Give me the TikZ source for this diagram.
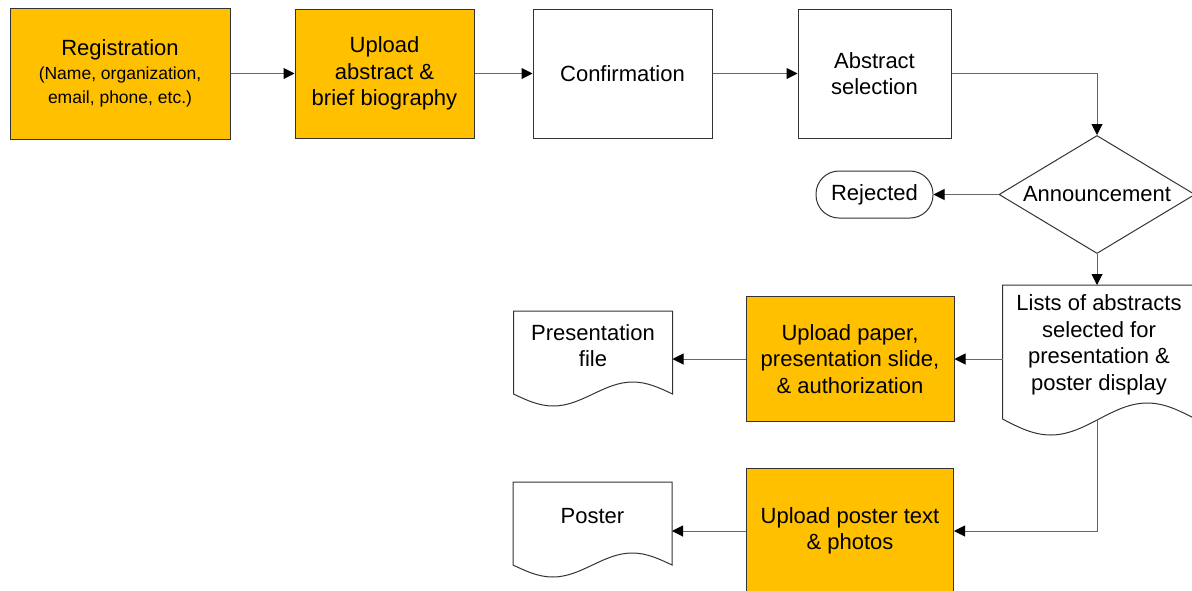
\documentclass[tikz,border=0pt]{standalone}
\usepackage{fontspec}
\setmainfont{Liberation Sans}
\usepackage{tikz}
\usetikzlibrary{positioning, arrows.meta, shapes.geometric, calc}
\definecolor{upfill}{HTML}{FFC000}
\tikzset{
->, % every connector is directed
>={Triangle[length=11pt, width=11pt, color=black]}, % filled black heads
every path/.style={line width=1pt},
every node/.style={align=center, font=\fontsize{22pt}{26.5pt}\selectfont},
link/.style={draw=black!60}, % connector lines
task/.style={rectangle, draw=black!80, minimum height=129pt}, % plain process box
upload/.style={task, fill=upfill}, % the steps done by the author
endbox/.style={rectangle, rounded corners=23pt, draw=black!80, minimum width=117pt, minimum height=47pt},
decision/.style={diamond, draw=black!80, inner sep=0pt, aspect=1.66, minimum width=196pt, minimum height=118pt},
docnode/.style={rectangle, inner sep=0pt}, % outline is drawn by \docoutline
}
% document outline with a wavy foot, #2 = wave height
\newcommand{\docoutline}[2]{%
  \draw[-, draw=black!80] ([yshift=-14pt]#1.south west)
    sin ([yshift=-14pt-#2]$(#1.south west)!0.25!(#1.south east)$)
    cos ([yshift=-14pt]#1.south)
    sin ([yshift=-14pt+#2]$(#1.south west)!0.75!(#1.south east)$)
    cos ([yshift=-14pt]#1.south east)
    -- (#1.north east) -- (#1.north west) -- cycle;}

\begin{document}
\begin{tikzpicture}
            \useasboundingbox (0pt,0pt) rectangle (1192pt,-590pt);
            \node[upload, minimum width=220pt, minimum height=131pt] (reg) at (120pt,-73.5pt)
                {{\fontsize{22pt}{26.5pt}\selectfont Registration}\\[-2.5pt]
                 \fontsize{17.5pt}{25pt}\selectfont (Name, organization,\\[-2pt]
                 \fontsize{17.5pt}{25pt}\selectfont email, phone, etc.)};
            \node[upload, right=64pt of reg, minimum width=179pt] (upabs) {Upload\\abstract \&\\brief biography};
            \node[task, right=58pt of upabs, minimum width=179pt] (confirm) {Confirmation};
            \node[task, right=85pt of confirm, minimum width=153pt] (abssel) {Abstract\\selection};
            \node[endbox, below=32pt of abssel] (rejected) {Rejected};
            \node[decision, right=65pt of rejected] (announce) {Announcement};
            \node[docnode, below=31pt of announce, xshift=2pt, minimum width=192pt, minimum height=119pt] (lists)
                {Lists of abstracts\\selected for\\presentation \&\\poster display};
            \node[upload, below left=11pt and 48pt of lists.north west, anchor=north east,
                minimum width=208pt, minimum height=125pt] (uppaper)
                {Upload paper,\\presentation slide,\\\& authorization};
            \node[docnode, below left=15pt and 73pt of uppaper.north west, anchor=north east,
                minimum width=158pt, minimum height=68pt] (presfile) {Presentation\\file};
            \node[upload, below=46pt of uppaper, minimum width=207pt, minimum height=125pt] (upposter)
                {Upload poster text\\\& photos};
            \node[docnode, below left=14pt and 74pt of upposter.north west, anchor=north east,
                minimum width=158pt, minimum height=68pt] (poster) {Poster};

            % wavy document outlines
            \docoutline{lists}{16pt}
            \docoutline{presfile}{12pt}
            \docoutline{poster}{12pt}

            % connectors
            \draw[link] (reg) -- (upabs);
            \draw[link] (upabs) -- (confirm);
            \draw[link] (confirm) -- (abssel);
            \draw[link] (abssel.east) -| (announce.north);
            \draw[link] (announce.west) -- (rejected.east);
            \draw[link] (announce.south) -- (announce.south |- lists.north);
            \draw[link] (lists.west |- uppaper.east) -- (uppaper.east);
            \draw[link] (uppaper.west) -- (uppaper.west -| presfile.east);
            \draw[link] (announce.south |- lists.south) ++(0,-14pt) |- (upposter.east);
            \draw[link] (upposter.west) -- (upposter.west -| poster.east);
        \end{tikzpicture}
\end{document}
